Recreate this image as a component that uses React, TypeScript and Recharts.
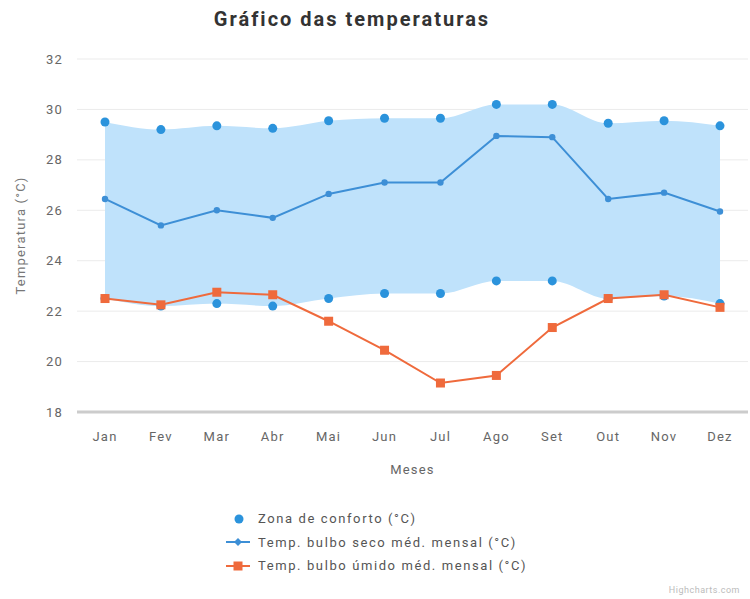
import { ComposedChart, Area, Line, XAxis, YAxis, CartesianGrid, Label } from 'recharts';

const months = ['Jan', 'Fev', 'Mar', 'Abr', 'Mai', 'Jun', 'Jul', 'Ago', 'Set', 'Out', 'Nov', 'Dez'];
const comfortLow = [22.5, 22.2, 22.3, 22.2, 22.5, 22.7, 22.7, 23.2, 23.2, 22.5, 22.6, 22.3];
const comfortHigh = [29.5, 29.2, 29.35, 29.25, 29.55, 29.65, 29.65, 30.2, 30.2, 29.45, 29.55, 29.35];
const dryBulb = [26.45, 25.4, 26.0, 25.7, 26.65, 27.1, 27.1, 28.95, 28.9, 26.45, 26.7, 25.95];
const wetBulb = [22.5, 22.25, 22.75, 22.65, 21.6, 20.45, 19.15, 19.45, 21.35, 22.5, 22.65, 22.15];
const yTicks = [18, 20, 22, 24, 26, 28, 30, 32];

const BLUE = '#2b93dc';
const DRY = '#3d8fd6';
const ORANGE = '#ef6a3c';
const FONT = 'Roboto, "Noto Sans", sans-serif';
const tickStyle = { fill: '#666', fontSize: 13, fontFamily: FONT, letterSpacing: 1.2 };

const data = months.map((m, i) => ({
  month: m,
  zone: [comfortLow[i], comfortHigh[i]],
  low: comfortLow[i],
  high: comfortHigh[i],
  dry: dryBulb[i],
  wet: wetBulb[i],
}));

const SquareDot = (props: any) => {
  const { cx, cy, index } = props;
  if (cx == null || cy == null) return null;
  return <rect key={`sq-${index}`} x={cx - 4.5} y={cy - 4.5} width={9} height={9} fill={ORANGE} />;
};

export default function App() {
  return (
    <div style={{ position: 'absolute', left: 0, top: 0, width: 750, height: 599, background: '#fff', fontFamily: FONT }}>
      <div
        style={{
          position: 'absolute',
          left: 0,
          width: 704,
          top: 7,
          textAlign: 'center',
          fontSize: 20,
          fontWeight: 700,
          letterSpacing: 2,
          color: '#333',
        }}
      >
        Gráfico das temperaturas
      </div>
      <ComposedChart width={750} height={599} data={data} margin={{ top: 59, right: 2, bottom: 125, left: 0 }}>
        <CartesianGrid vertical={false} stroke="#ebebeb" />
        <XAxis
          dataKey="month"
          height={62}
          padding={{ left: 28, right: 28 }}
          tickLine={false}
          tickSize={0}
          tickMargin={20}
          axisLine={{ stroke: '#cccccc', strokeWidth: 3 }}
          tick={tickStyle}
        >
          <Label value="Meses" position="insideBottom" offset={0} style={tickStyle} />
        </XAxis>
        <YAxis
          width={77}
          domain={[18, 32]}
          ticks={yTicks}
          axisLine={false}
          tickLine={false}
          tickSize={0}
          tickMargin={14}
          tick={tickStyle}
        >
          <Label
            value="Temperatura (°C)"
            angle={-90}
            position="insideLeft"
            offset={20}
            style={{ ...tickStyle, textAnchor: 'middle', fill: '#777' }}
          />
        </YAxis>
        <Area
          type="monotone"
          dataKey="zone"
          stroke="none"
          fill="#bfe2fb"
          fillOpacity={1}
          dot={false}
          activeDot={false}
          isAnimationActive={false}
        />
        <Line dataKey="high" stroke="none" dot={{ r: 4.5, fill: BLUE, stroke: 'none' }} activeDot={false} isAnimationActive={false} />
        <Line dataKey="low" stroke="none" dot={{ r: 4.5, fill: BLUE, stroke: 'none' }} activeDot={false} isAnimationActive={false} />
        <Line
          dataKey="dry"
          stroke={DRY}
          strokeWidth={2}
          dot={{ r: 3.2, fill: DRY, stroke: 'none' }}
          activeDot={false}
          isAnimationActive={false}
        />
        <Line dataKey="wet" stroke={ORANGE} strokeWidth={2} dot={<SquareDot />} activeDot={false} isAnimationActive={false} />
      </ComposedChart>
      <div
        style={{
          position: 'absolute',
          left: 222,
          top: 507,
          fontSize: 13,
          letterSpacing: 1.6,
          color: '#555',
          lineHeight: '23.5px',
        }}
      >
        <div style={{ display: 'flex', alignItems: 'center' }}>
          <svg width={28} height={12} style={{ marginRight: 8 }}>
            <circle cx={17} cy={6} r={4.5} fill={BLUE} />
          </svg>
          Zona de conforto (°C)
        </div>
        <div style={{ display: 'flex', alignItems: 'center' }}>
          <svg width={28} height={12} style={{ marginRight: 8 }}>
            <line x1={4} y1={6} x2={28} y2={6} stroke={DRY} strokeWidth={2} />
            <path d="M16 2 L20 6 L16 10 L12 6 Z" fill={DRY} />
          </svg>
          Temp. bulbo seco méd. mensal (°C)
        </div>
        <div style={{ display: 'flex', alignItems: 'center' }}>
          <svg width={28} height={12} style={{ marginRight: 8 }}>
            <line x1={4} y1={6} x2={28} y2={6} stroke={ORANGE} strokeWidth={2} />
            <rect x={11.5} y={1.5} width={9} height={9} fill={ORANGE} />
          </svg>
          Temp. bulbo úmido méd. mensal (°C)
        </div>
      </div>
      <div style={{ position: 'absolute', right: 10, top: 585, fontSize: 9, color: '#bbb', letterSpacing: 0.5 }}>
        Highcharts.com
      </div>
    </div>
  );
}
